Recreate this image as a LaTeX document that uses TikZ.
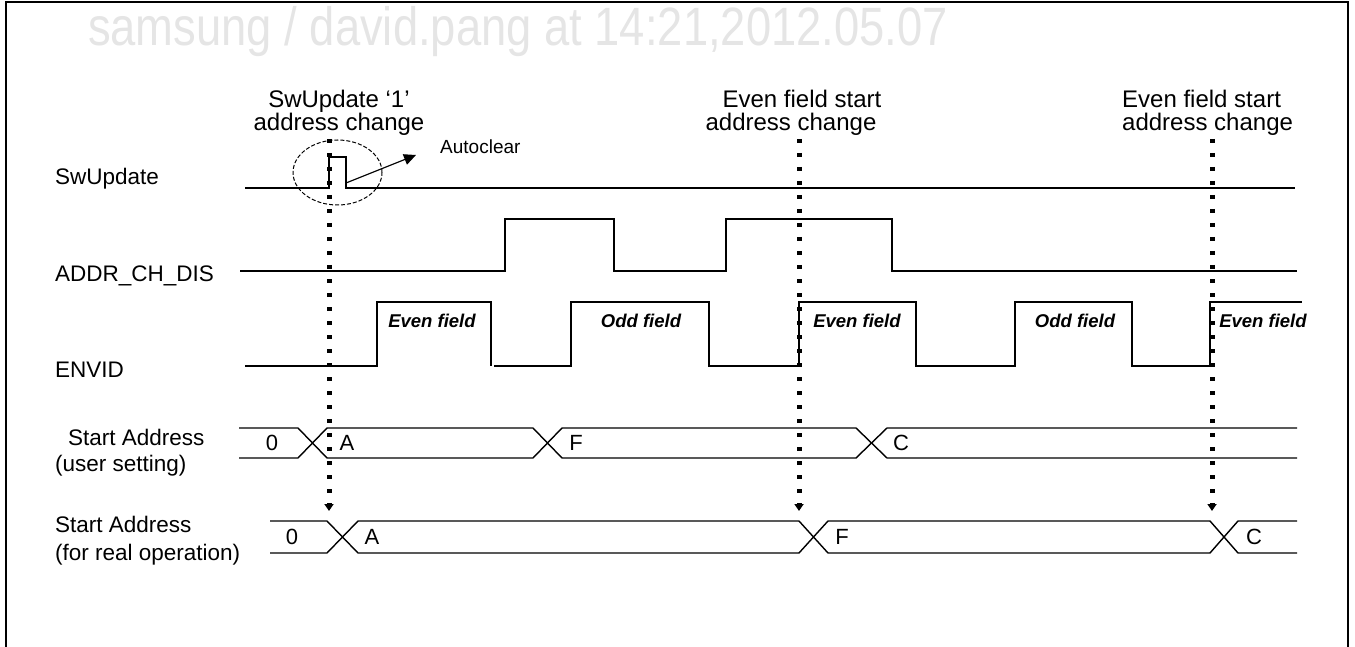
\documentclass[tikz,border=0pt]{standalone}
\usepackage{fontspec}
\setmainfont{Liberation Sans}
\usetikzlibrary{arrows.meta,shapes.geometric}
\begin{document}
\begin{tikzpicture}[x=1pt,y=-1pt,
  sig/.style={line width=1.4pt,line join=miter},
  lbl/.style={anchor=west,inner sep=0pt,font=\fontsize{22.5}{24}\selectfont},
  bus/.style={inner sep=0pt,font=\fontsize{22}{24}\selectfont},
  fld/.style={inner sep=0pt,font=\fontsize{18.5}{20}\selectfont\bfseries\itshape},
  ann/.style={inner sep=0pt,font=\fontsize{24}{24}\selectfont},
  dotarrow/.style={line width=5pt,dash pattern=on 4pt off 10pt,
    -{Triangle[width=9pt,length=7pt]}},
  frame/.style={line width=2.5pt}]
\useasboundingbox (0,0) rectangle (1355,647);
% frame
\draw[frame] (6,650) -- (6,2) -- (1348,2) -- (1348,650);
% watermark
\node[inner sep=0pt,text=black!10,xscale=0.84,font=\fontsize{54}{58}\selectfont] (wm) at (518,32) {samsung / david.pang at 14:21,2012.05.07};
% left labels
\node[lbl] (lsw) at (55,179) {SwUpdate};
\node[lbl] (lad) at (55,276) {ADDR\_CH\_DIS};
\node[lbl] (len) at (55,370) {ENVID};
\node[lbl] (lsa1) at (68,437) {Start Address};
\node[lbl] (lsa1b) at (55,466) {(user setting)};
\node[lbl] (lsa2) at (55,524) {Start Address};
\node[lbl] (lsa2b) at (55,555) {(for real operation)};
% annotations
\node[ann,anchor=base] (an1a) at (339,108) {SwUpdate `1'};
\node[ann,anchor=base] (an1b) at (339,131) {address change};
\node[ann,anchor=base] (an2a) at (802,108) {Even field start};
\node[ann,anchor=base] (an2b) at (791,131) {address change};
\node[ann,anchor=base west] (an3a) at (1122,108) {Even field start};
\node[ann,anchor=base west] (an3b) at (1122,131) {address change};
% SwUpdate
\draw[sig] (245,188) -- (329,188) -- (329,157) -- (346,157) -- (346,188) -- (1295,188);
\node[draw,ellipse,line width=1pt,dash pattern=on 4pt off 2pt,minimum width=89pt,minimum height=65pt,inner sep=0pt] (circ) at (337.5,172.5) {};
\coordinate (acs) at (346,183);
\node[inner sep=0pt,anchor=west,font=\fontsize{19}{21}\selectfont] (ac) at (440,147) {Autoclear};
\coordinate (ace) at (416,155);
\draw[line width=1.2pt,-{Triangle[width=11pt,length=12pt]}] (acs) -- (ace);
% ADDR_CH_DIS
\draw[sig] (240,271) -- (505,271) -- (505,219) -- (614,219) -- (614,271) -- (726,271) -- (726,219) -- (892,219) -- (892,271) -- (1297,271);
% ENVID
\draw[sig] (245,366) -- (377,366) -- (377,302) -- (491,302) -- (491,366);
\draw[sig] (494,366) -- (571,366) -- (571,302) -- (709,302) -- (709,366) -- (799,366) -- (799,302) -- (916,302) -- (916,366) -- (1015,366) -- (1015,302) -- (1132,302) -- (1132,366) -- (1210,366) -- (1210,302) -- (1302,302);
\node[fld] (f1) at (432,321) {Even field};
\node[fld] (f2) at (641,321) {Odd field};
\node[fld] (f3) at (857,321) {Even field};
\node[fld] (f4) at (1075,321) {Odd field};
\node[fld] (f5) at (1263,321) {Even field};
% Start address (user setting)
\draw[sig] (239,428) -- (298,428) -- (327,458) -- (533,458) -- (562,428) -- (856,428) -- (887,458) -- (1297,458);
\draw[sig] (239,458) -- (298,458) -- (327,428) -- (533,428) -- (562,458) -- (856,458) -- (887,428) -- (1297,428);
\node[bus] (u0) at (272,443) {0};
\node[bus] (uA) at (347,443) {A};
\node[bus] (uF) at (576,443) {F};
\node[bus] (uC) at (901,443) {C};
% Start address (real)
\draw[sig] (270,521) -- (327,521) -- (358,553) -- (799,553) -- (828,521) -- (1210,521) -- (1238,553) -- (1297,553);
\draw[sig] (270,553) -- (327,553) -- (358,521) -- (799,521) -- (828,553) -- (1210,553) -- (1238,521) -- (1297,521);
\node[bus] (r0) at (292,537) {0};
\node[bus] (rA) at (372,537) {A};
\node[bus] (rF) at (842,537) {F};
\node[bus] (rC) at (1254,537) {C};
% dotted arrows
\coordinate (d1s) at (329,139); \coordinate (d1e) at (329,511);
\coordinate (d2s) at (799,139); \coordinate (d2e) at (799,511);
\coordinate (d3s) at (1212,139); \coordinate (d3e) at (1212,511);
\draw[dotarrow] (d1s) -- (d1e);
\draw[dotarrow] (d2s) -- (d2e);
\draw[dotarrow] (d3s) -- (d3e);
\end{tikzpicture}
\end{document}
